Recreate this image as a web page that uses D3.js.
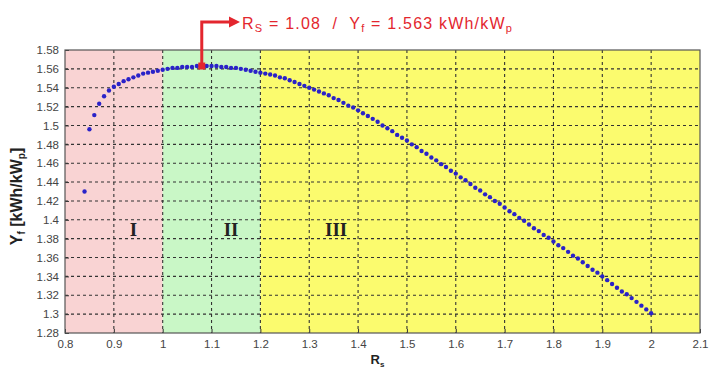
<!DOCTYPE html>
<html>
<head>
<meta charset="utf-8">
<script src="https://cdn.jsdelivr.net/npm/d3@7"></script>
<style>
  body { margin: 0; background: #fff; }
  svg { display: block; }
  .axis text { font-family: "Liberation Sans", Arial, sans-serif; font-size: 11.5px; fill: #444; }
</style>
</head>
<body>
<svg id="chart" width="709" height="368"></svg>
<script>
// ratio R_s (x) and final yield Y_f (y)
let rsValues = [
    0.84, 0.85, 0.86, 0.87, 0.88, 0.89, 0.90, 0.91, 0.92, 0.93,
    0.94, 0.95, 0.96, 0.97, 0.98, 0.99, 1.00, 1.01, 1.02, 1.03,
    1.04, 1.05, 1.06, 1.07, 1.08, 1.09, 1.10, 1.11, 1.12, 1.13,
    1.14, 1.15, 1.16, 1.17, 1.18, 1.19, 1.20, 1.21, 1.22, 1.23,
    1.24, 1.25, 1.26, 1.27, 1.28, 1.29, 1.30, 1.31, 1.32, 1.33,
    1.34, 1.35, 1.36, 1.37, 1.38, 1.39, 1.40, 1.41, 1.42, 1.43,
    1.44, 1.45, 1.46, 1.47, 1.48, 1.49, 1.50, 1.51, 1.52, 1.53,
    1.54, 1.55, 1.56, 1.57, 1.58, 1.59, 1.60, 1.61, 1.62, 1.63,
    1.64, 1.65, 1.66, 1.67, 1.68, 1.69, 1.70, 1.71, 1.72, 1.73,
    1.74, 1.75, 1.76, 1.77, 1.78, 1.79, 1.80, 1.81, 1.82, 1.83,
    1.84, 1.85, 1.86, 1.87, 1.88, 1.89, 1.90, 1.91, 1.92, 1.93,
    1.94, 1.95, 1.96, 1.97, 1.98, 1.99, 2.00
];
let yfValues = [
    1.430, 1.496, 1.511, 1.523, 1.531, 1.537, 1.541, 1.544, 1.547, 1.549,
    1.551, 1.553, 1.555, 1.556, 1.557, 1.558, 1.559, 1.560, 1.561, 1.561,
    1.562, 1.562, 1.562, 1.563, 1.563, 1.563, 1.563, 1.563, 1.562, 1.562,
    1.561, 1.561, 1.560, 1.559, 1.558, 1.557, 1.556, 1.555, 1.554, 1.553,
    1.551, 1.550, 1.548, 1.546, 1.544, 1.542, 1.540, 1.538, 1.536, 1.534,
    1.532, 1.529, 1.527, 1.524, 1.521, 1.519, 1.516, 1.513, 1.510, 1.507,
    1.504, 1.500, 1.497, 1.494, 1.490, 1.487, 1.484, 1.480, 1.477, 1.473,
    1.470, 1.466, 1.463, 1.459, 1.456, 1.452, 1.449, 1.445, 1.442, 1.438,
    1.434, 1.431, 1.427, 1.424, 1.420, 1.417, 1.413, 1.409, 1.406, 1.402,
    1.399, 1.395, 1.391, 1.388, 1.384, 1.381, 1.377, 1.373, 1.370, 1.366,
    1.362, 1.359, 1.355, 1.351, 1.347, 1.344, 1.340, 1.336, 1.332, 1.328,
    1.324, 1.321, 1.317, 1.313, 1.309, 1.305, 1.301
];

let xTicks = [0.8, 0.9, 1, 1.1, 1.2, 1.3, 1.4, 1.5, 1.6, 1.7, 1.8, 1.9, 2, 2.1];
let yTicks = [1.28, 1.3, 1.32, 1.34, 1.36, 1.38, 1.4, 1.42, 1.44, 1.46, 1.48, 1.5, 1.52, 1.54, 1.56, 1.58];

// zones I / II / III
let zoneNames = ["I", "II", "III"];
let zoneStart = [0.8, 1.0, 1.2];
let zoneEnd = [1.0, 1.2, 2.1];
let zoneLabelX = [0.94, 1.14, 1.355];
let zoneColors = ["#f9d3d3", "#c9f7c6", "#fbfb6e"];

// optimum
let optRs = 1.08, optYf = 1.563;

const margin = { top: 50, right: 9, bottom: 35, left: 65 };
const svg = d3.select('#chart');
const width = 709 - margin.left - margin.right;
const height = 368 - margin.top - margin.bottom;

const xScale = d3.scaleLinear().domain([0.8, 2.1]).range([0, width]);
const yScale = d3.scaleLinear().domain([1.28, 1.58]).range([height, 0]);

const chart = svg.append('g')
    .attr('transform', `translate(${margin.left},${margin.top})`);

// background zones
chart.selectAll('.zone')
    .data(zoneNames)
    .enter()
    .append('rect')
    .attr('class', 'zone')
    .attr('x', (d, i) => xScale(zoneStart[i]))
    .attr('y', 0)
    .attr('width', (d, i) => xScale(zoneEnd[i]) - xScale(zoneStart[i]))
    .attr('height', height)
    .attr('fill', (d, i) => zoneColors[i]);

// dashed grid
chart.selectAll('.vgrid')
    .data(xTicks.slice(1, -1))
    .enter()
    .append('line')
    .attr('x1', d => xScale(d)).attr('x2', d => xScale(d))
    .attr('y1', 0).attr('y2', height)
    .attr('stroke', '#333').attr('stroke-width', 1.1)
    .attr('stroke-dasharray', '3,3');
chart.selectAll('.hgrid')
    .data(yTicks.slice(1, -1))
    .enter()
    .append('line')
    .attr('x1', 0).attr('x2', width)
    .attr('y1', d => yScale(d)).attr('y2', d => yScale(d))
    .attr('stroke', '#333').attr('stroke-width', 1.1)
    .attr('stroke-dasharray', '3,3');

// axes (ticks pointing inward)
const xAxis = d3.axisBottom(xScale).tickValues(xTicks).tickSize(-4).tickPadding(7).tickFormat(d3.format('~g'));
const yAxis = d3.axisLeft(yScale).tickValues(yTicks).tickSize(-4).tickPadding(6).tickFormat(d3.format('~g'));

chart.append('g').attr('class', 'axis')
    .attr('transform', `translate(0,${height})`).call(xAxis);
chart.append('g').attr('class', 'axis').call(yAxis);
chart.selectAll('.axis .domain').remove();
chart.selectAll('.axis .tick line').attr('stroke', '#333');

// box
chart.append('rect')
    .attr('x', 0).attr('y', 0).attr('width', width).attr('height', height)
    .attr('fill', 'none').attr('stroke', '#555').attr('stroke-width', 1.2);

// zone labels
chart.selectAll('.zoneLabel')
    .data(zoneNames)
    .enter()
    .append('text')
    .attr('x', (d, i) => xScale(zoneLabelX[i]))
    .attr('y', yScale(1.39))
    .attr('dy', '0.35em')
    .attr('text-anchor', 'middle')
    .attr('font-family', '"Liberation Serif", "DejaVu Serif", serif')
    .attr('font-weight', 'bold')
    .attr('font-size', 19)
    .attr('fill', '#222')
    .text(d => d);

// data points
chart.selectAll('.pt')
    .data(rsValues)
    .enter()
    .append('circle')
    .attr('cx', d => xScale(d))
    .attr('cy', (d, i) => yScale(yfValues[i]))
    .attr('r', 2.2)
    .attr('fill', '#2a22c8');

// optimum marker and callout
const red = '#e3262e';
const ox = xScale(optRs), oy = yScale(optYf);
chart.append('path')
    .attr('d', `M${ox},${oy} V${-28} H${166}`)
    .attr('fill', 'none').attr('stroke', red).attr('stroke-width', 3);
chart.append('path')
    .attr('d', `M${164},${-33.5} L${175},${-28} L${164},${-22.5} Z`)
    .attr('fill', red);
chart.append('rect')
    .attr('x', ox - 3.5).attr('y', oy - 3.5).attr('width', 7).attr('height', 7)
    .attr('fill', red);

const nb = '\u00a0';
const note = chart.append('text')
    .attr('x', 177).attr('y', -21)
    .attr('font-family', '"Liberation Sans", Arial, sans-serif')
    .attr('font-size', 16)
    .attr('letter-spacing', 1.2)
    .attr('fill', red);
note.append('tspan').text('R');
note.append('tspan').attr('font-size', 11).attr('dy', 3).text('S');
note.append('tspan').attr('dy', -3).text(nb + '=' + nb + optRs + nb + nb + '/' + nb + nb + 'Y');
note.append('tspan').attr('font-size', 11).attr('dy', 3).text('f');
note.append('tspan').attr('dy', -3).text(nb + '=' + nb + optYf + ' kWh/kW');
note.append('tspan').attr('font-size', 11).attr('dy', 3).text('p');

// axis titles
const xt = svg.append('text')
    .attr('x', margin.left + width / 2 - 5).attr('y', 364)
    .attr('text-anchor', 'middle')
    .attr('font-family', '"Liberation Sans", Arial, sans-serif')
    .attr('font-weight', 'bold').attr('font-size', 13).attr('fill', '#222');
xt.append('tspan').text('R');
xt.append('tspan').attr('font-size', 8).attr('dy', 3).text('s');

const yt = svg.append('text')
    .attr('transform', `translate(22,${margin.top + height / 2 + 5}) rotate(-90)`)
    .attr('text-anchor', 'middle')
    .attr('font-family', '"Liberation Sans", Arial, sans-serif')
    .attr('font-weight', 'bold').attr('font-size', 16).attr('fill', '#222');
yt.append('tspan').text('Y');
yt.append('tspan').attr('font-size', 10).attr('dy', 3).text('f');
yt.append('tspan').attr('dy', -3).text(' [kWh/kW');
yt.append('tspan').attr('font-size', 10).attr('dy', 3).text('p');
yt.append('tspan').attr('dy', -3).text(']');
</script>
</body>
</html>
